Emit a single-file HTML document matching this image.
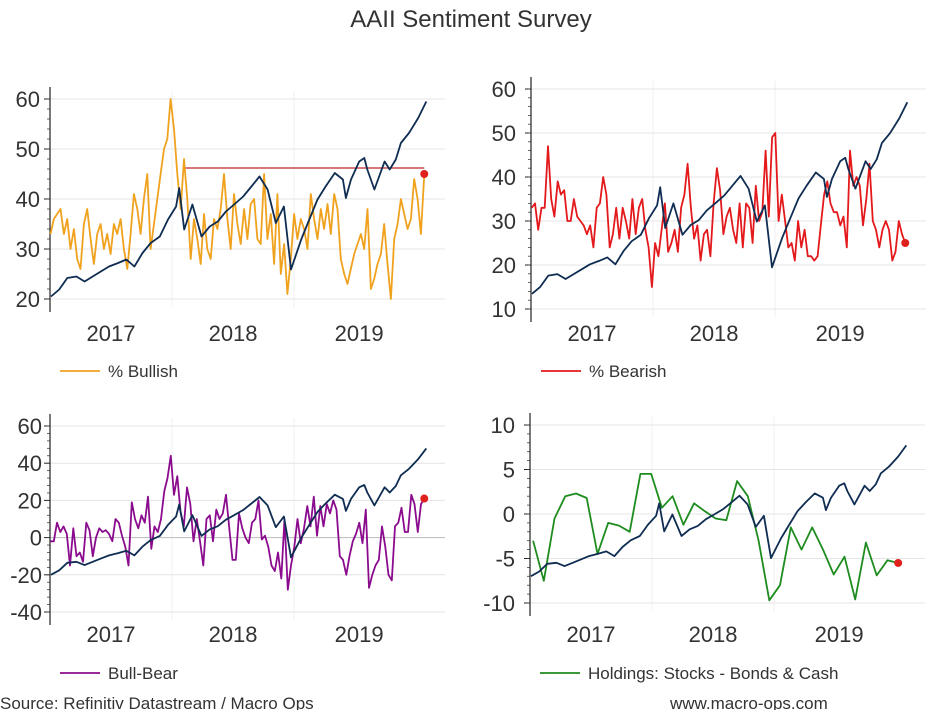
<!DOCTYPE html>
<html><head><meta charset="utf-8"><style>
html,body{margin:0;padding:0;background:#fff;width:943px;height:710px;overflow:hidden}
svg{display:block;font-family:"Liberation Sans",sans-serif}
</style></head><body>
<svg id="c" width="943" height="710">
<text x="471" y="27" text-anchor="middle" font-size="24" fill="#333">AAII Sentiment Survey</text>
<text x="0" y="709" font-size="17" fill="#333">Source: Refinitiv Datastream / Macro Ops</text>
<text x="670" y="709" font-size="17" fill="#333">www.macro-ops.com</text>
</svg>
<script>
// Blue index (S&P, shared series), months since Jan 2017 and level
const blueMonths=[0.1,0.9,1.7,2.6,3.4,4.2,5.0,5.8,6.7,7.5,8.3,9.1,9.9,10.8,11.6,12.4,12.7,13.2,14.0,14.9,15.7,16.5,17.3,18.1,19.0,19.8,20.6,21.4,22.2,23.0,23.7,24.7,25.5,26.3,27.1,28.0,28.8,29.1,29.6,30.4,30.9,31.2,31.9,32.9,33.4,34.0,34.5,35.3,36.2,37.0];
const blueValues=[20.5,21.9,24.2,24.5,23.5,24.5,25.5,26.5,27.2,27.9,26.5,29.2,31.2,32.5,35.9,38.5,42.2,33.9,38.9,32.5,34.5,35.5,37.5,38.9,40.5,42.5,44.5,41.9,35.2,38.5,25.9,31.9,35.9,39.9,42.5,45.2,43.9,40.2,43.9,47.5,48.2,45.9,41.9,47.5,45.9,47.9,51.2,53.2,56.2,59.5];
const bullish=[33,36,37,38,33,36,30,34,28,26,35,38,32,27,33,35,30,33,29,35,33,36,30,26,33,41,38,33,40,45,30,35,40,45,50,52,60,54,45,38,48,40,28,36,32,27,37,30,28,36,34,38,45,36,30,41,35,31,38,32,39,40,32,31,45,32,37,27,41,25,31,21,28,37,32,36,34,30,41,36,32,38,34,39,33,41,38,28,25,23,26,29,31,33,30,38,22,24,27,29,35,27,20,32,35,40,37,34,36,44,40,33,45];
const bearish=[33,34,28,33,33,47,35,31,39,36,37,30,30,35,31,30,29,27,29,24,33,34,40,36,24,27,33,26,33,30,26,35,27,33,35,28,24,15,25,22,28,34,23,25,28,23,33,36,43,33,26,29,21,27,28,22,34,42,37,27,31,33,28,25,34,24,34,33,25,38,30,32,46,31,49,50,30,36,30,24,25,21,30,24,28,22,22,21,22,29,36,39,34,32,32,29,31,24,46,38,40,38,29,35,43,30,28,24,28,30,28,21,23,30,27,25];
const bullBear=[-2,-2,8,3,6,2,-15,5,-10,-8,-13,8,4,-10,0,5,3,4,2,-2,10,8,1,-5,-15,19,10,5,12,8,22,-6,6,3,10,25,32,44,23,33,14,6,27,18,-2,10,-2,-15,10,12,-2,15,10,13,23,5,-12,-12,13,5,0,-3,8,10,20,-1,1,-5,-15,-18,-8,-22,10,-28,-15,-5,10,-3,5,17,6,22,1,17,6,18,13,20,15,-10,-12,-20,-10,-2,2,8,-3,15,-27,-20,-15,-12,6,-5,-20,-23,6,8,16,3,3,23,18,3,18,21];
const holdings=[-3,-7.5,-0.5,2,2.3,1.8,-4.5,-1,-1.3,-2,4.5,4.5,0.7,2,-1.2,1.2,0.3,-0.5,-0.7,3.7,2,-3,-9.7,-8,-1.5,-4,-1.5,-4,-6.8,-4.8,-9.6,-3.2,-6.9,-5.2,-5.5];
const yearLabels=["2017","2018","2019"];
const ticks1=[20,30,40,50,60], ticks2=[10,20,30,40,50,60], ticks3=[-40,-20,0,20,40,60], ticks4=[-10,-5,0,5,10];

const NS="http://www.w3.org/2000/svg", svg=document.getElementById('c');
function mk(tag,attrs,parent){const e=document.createElementNS(NS,tag);for(const k in attrs)e.setAttribute(k,attrs[k]);(parent||svg).appendChild(e);return e;}
const PX_PER_MONTH=10.17;

function panel(cfg){
  const g=mk('g',{});
  
  
  const y=v=>cfg.yMaxPx+(cfg.max-v)*(cfg.yMinPx-cfg.yMaxPx)/(cfg.max-cfg.min);
  const x=m=>cfg.x0+m*PX_PER_MONTH;
  const yb=v=>y(cfg.min+(v-cfg.bMin)*(cfg.max-cfg.min)/(cfg.bMax-cfg.bMin));
  // year gridlines
  [12,24].forEach(m=>{const l=mk('line',{x1:x(m),x2:x(m),y1:cfg.yMaxPx-8,y2:cfg.yMinPx+8,stroke:'#f0f0f0'},g);
    });
  cfg.ticks.forEach(t=>{
    const gl=mk('line',{x1:cfg.x0,x2:cfg.x0+395,y1:y(t),y2:y(t),stroke:t===0&&cfg.zero?'#bbb':'#e4e4e4'},g);
    
    const tx=mk('text',{x:cfg.labelX,y:y(t)+8,'text-anchor':'end','font-size':22,fill:'#333'},g);
    tx.textContent=t;
    
    const tk=mk('line',{x1:cfg.x0-6,x2:cfg.x0,y1:y(t),y2:y(t),stroke:'#222'},g);
    
  });
  for(let v=cfg.min;v<=cfg.max+1e-9;v+=cfg.minor){
    const mt=mk('line',{x1:cfg.x0-3,x2:cfg.x0,y1:y(v),y2:y(v),stroke:'#444','stroke-width':0.8},g);
    
  }
  const ax=mk('line',{x1:cfg.x0,x2:cfg.x0,y1:cfg.yMaxPx-12,y2:cfg.yMinPx+13,stroke:'#222','stroke-width':1.2},g);
  
  yearLabels.forEach((s,i)=>{const t=mk('text',{x:x(6+12*i)+(i===2?4:0),y:cfg.xLabY,'text-anchor':'middle','font-size':22,fill:'#333'},g);
    t.textContent=s;});
  if(cfg.extra)cfg.extra(g,x,y);
  const bp=blueValues.map((v,i)=>x(blueMonths[i]).toFixed(1)+','+yb(v).toFixed(1)).join(' ');
  const s=cfg.series, n=s.length;
  const sp=s.map((v,i)=>x(cfg.s0+i*(cfg.s1-cfg.s0)/(n-1)).toFixed(1)+','+y(v).toFixed(1)).join(' ');
  const sl=mk('polyline',{points:sp,fill:'none',stroke:cfg.color,'stroke-width':1.8,'stroke-linejoin':'round'},g);
  
  const bl=mk('polyline',{points:bp,fill:'none',stroke:'#0f2d52','stroke-width':1.8,'stroke-linejoin':'round'},g);
  
  const dot=mk('circle',{cx:x(cfg.s1),cy:y(s[n-1]),r:4,fill:'#e0201c'},g);
  
  const lg=mk('line',{x1:cfg.x0+10,x2:cfg.x0+50,y1:cfg.legY,y2:cfg.legY,stroke:cfg.color,'stroke-width':1.8},g);
  
  const lt=mk('text',{x:cfg.x0+58,y:cfg.legY+6,'font-size':17,fill:'#333'},g);
  lt.textContent=cfg.legend;
}

panel({name:'bullish-panel',x0:50,yMaxPx:99,yMinPx:299,max:60,min:20,minor:2,ticks:ticks1,labelX:40,xLabY:341,legY:371,
  bMin:20,bMax:60,series:bullish,s0:0.05,s1:36.8,color:'#f0a21e',seriesName:'bullish-line',legend:'% Bullish',
  extra:(g,x,y)=>{const l=mk('line',{x1:x(13.2),x2:x(36.8),y1:y(46.2),y2:y(46.2),stroke:'#c0282c','stroke-width':1.2},g);
    }});
panel({name:'bearish-panel',x0:531,yMaxPx:89,yMinPx:309,max:60,min:10,minor:2,ticks:ticks2,labelX:516,xLabY:341,legY:371,
  bMin:17.4,bMax:62.2,series:bearish,s0:0.07,s1:36.8,color:'#e3191c',seriesName:'bearish-line',legend:'% Bearish'});
panel({name:'bull-bear-panel',x0:50,yMaxPx:426,yMinPx:612,max:60,min:-40,minor:4,ticks:ticks3,labelX:42,xLabY:642,legY:673,zero:true,
  bMin:9.03,bMax:66.4,series:bullBear,s0:0.05,s1:36.8,color:'#8a0b8e',seriesName:'bull-bear-line',legend:'Bull-Bear'});
panel({name:'holdings-panel',x0:530,yMaxPx:425,yMinPx:603,max:10,min:-10,minor:1,ticks:ticks4,labelX:515,xLabY:642,legY:673,
  bMin:12.5,bMax:65.6,series:holdings,s0:0.3,s1:36.2,color:'#1e8c1e',seriesName:'holdings-line',legend:'Holdings: Stocks - Bonds & Cash'});
</script>
</body></html>
